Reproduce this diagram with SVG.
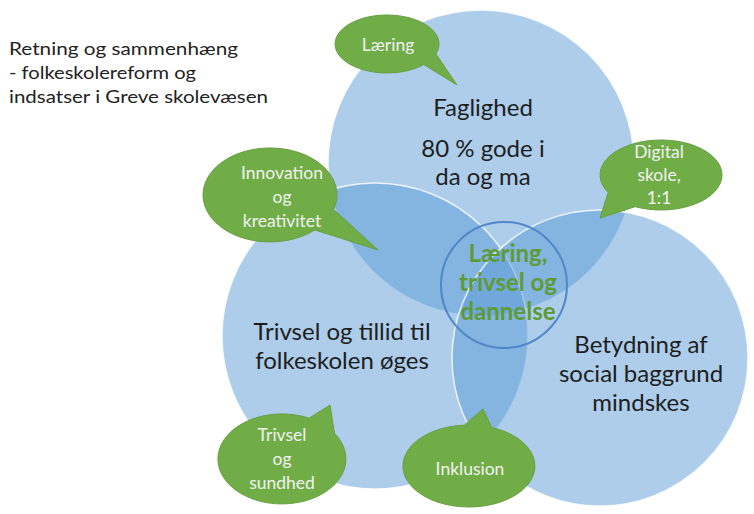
<svg xmlns="http://www.w3.org/2000/svg" width="754" height="514" viewBox="0 0 754 514">
<style>
.circ{fill:#5B9BD5;fill-opacity:0.5;stroke:#ffffff;stroke-width:1.5;stroke-opacity:0.8}
.core{fill:none;stroke:#4F87C9;stroke-width:2}
.bub{fill:#70AD47;stroke:#66a040;stroke-width:1}
.bt{font-family:Lato,"Open Sans",sans-serif;font-size:17.5px;fill:#f2f2f2;text-anchor:middle}
.big{font-family:Lato,"Open Sans",sans-serif;font-size:24px;fill:#1e1e1e;text-anchor:middle}
.mid{font-family:Lato,"Open Sans",sans-serif;font-size:24px;font-weight:bold;fill:#5e9b36;text-anchor:middle}
.title{font-family:Lato,"Open Sans",sans-serif;font-size:18px;fill:#222222}
</style>
<rect width="754" height="514" fill="#ffffff"/>
<g id="title">
<text class="title" x="9" y="55" textLength="229" lengthAdjust="spacingAndGlyphs">Retning og sammenhæng</text>
<text class="title" x="9" y="79" textLength="187" lengthAdjust="spacingAndGlyphs">- folkeskolereform og</text>
<text class="title" x="9" y="103" textLength="259" lengthAdjust="spacingAndGlyphs">indsatser i Greve skolevæsen</text>
</g>
<g id="circle-faglighed">
<circle class="circ" cx="481" cy="163" r="153"/>
</g>
<g id="circle-trivsel">
<circle class="circ" cx="375" cy="336" r="153"/>
</g>
<g id="circle-betydning">
<circle class="circ" cx="600" cy="358" r="148"/>
</g>
<g id="circle-core">
<circle class="core" cx="504" cy="285" r="63"/>
</g>
<g id="label-faglighed">
<text class="big" x="483" y="116">Faglighed</text>
<text class="big" x="483" y="157">80 % gode i</text>
<text class="big" x="483" y="185">da og ma</text>
</g>
<g id="label-trivsel">
<text class="big" x="342" y="340">Trivsel og tillid til</text>
<text class="big" x="342" y="369">folkeskolen øges</text>
</g>
<g id="label-betydning">
<text class="big" x="641" y="353">Betydning af</text>
<text class="big" x="641" y="382">social baggrund</text>
<text class="big" x="641" y="411">mindskes</text>
</g>
<g id="label-core">
<text class="mid" x="508" y="262">Læring,</text>
<text class="mid" x="508" y="291">trivsel og</text>
<text class="mid" x="508" y="320">dannelse</text>
</g>
<g id="bubble-laering">
<path class="bub" d="M435.9 53.9 L457 85 L423.8 64.5 A52 29 0 1 1 435.9 53.9 Z"/>
<text class="bt" x="388" y="51">Læring</text>
</g>
<g id="bubble-innovation">
<path class="bub" d="M333.7 209.5 L378 250 L314.8 229.9 A67 47 0 1 1 333.7 209.5 Z"/>
<text class="bt" x="282" y="179">Innovation</text>
<text class="bt" x="282" y="203">og</text>
<text class="bt" x="282" y="227">kreativitet</text>
</g>
<g id="bubble-digital">
<path class="bub" d="M635.2 206.7 L600 218 L608.2 192.5 A61 35 0 1 1 635.2 206.7 Z"/>
<text class="bt" x="659" y="158">Digital</text>
<text class="bt" x="659" y="181">skole,</text>
<text class="bt" x="659" y="204">1:1</text>
</g>
<g id="bubble-trivsel">
<path class="bub" d="M309.1 418.2 L330 405 L334.4 433.2 A64 45 0 1 1 309.1 418.2 Z"/>
<text class="bt" x="282" y="441">Trivsel</text>
<text class="bt" x="282" y="465">og</text>
<text class="bt" x="282" y="489">sundhed</text>
</g>
<g id="bubble-inklusion">
<path class="bub" d="M464.4 425.1 L483 409 L491.6 427.5 A66 41 0 1 1 464.4 425.1 Z"/>
<text class="bt" x="470" y="475">Inklusion</text>
</g>
</svg>
